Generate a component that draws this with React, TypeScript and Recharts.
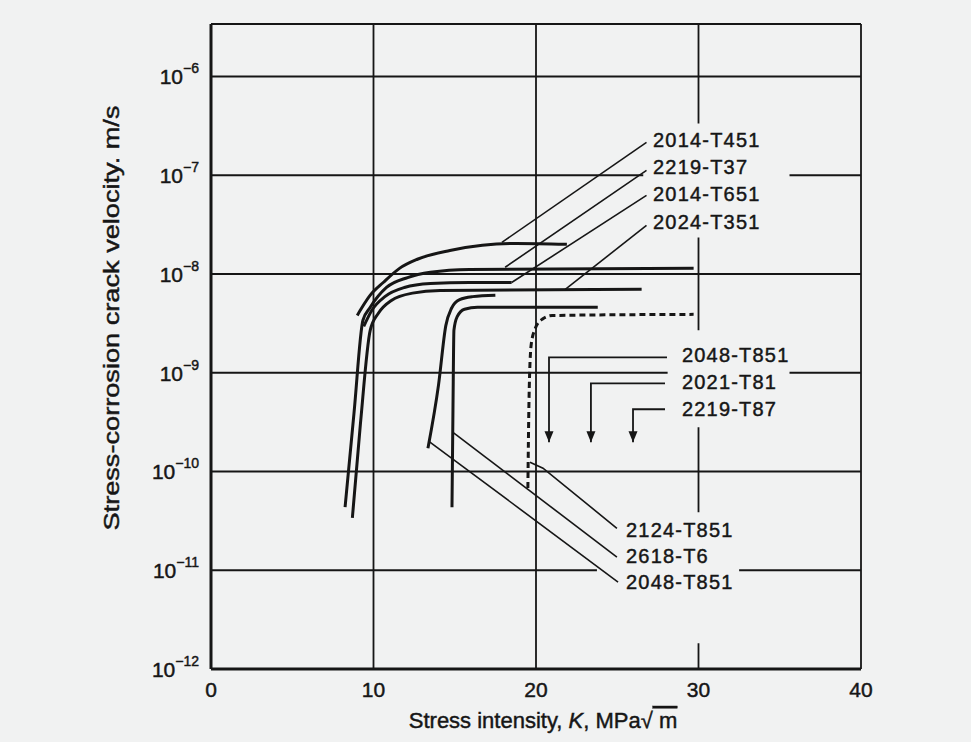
import React from "react";
import {
  LineChart,
  Line,
  XAxis,
  YAxis,
  CartesianGrid,
  ReferenceArea,
  ReferenceDot,
  Label,
} from "recharts";

const BG = "#f1f2f2";
const INK = "#161616";
const FONT = "'Liberation Sans', Arial, Helvetica, sans-serif";

// axes: stress intensity K (MPa√m) and crack velocity v (m/s, log)
const X_TICKS = [0, 10, 20, 30, 40];
const Y_TICKS = [1e-12, 1e-11, 1e-10, 1e-9, 1e-8, 1e-7, 1e-6];
const Y_MAX = 3.4e-6;

// curves
const c2014T451 = [
  { k: 9.0, v: 3.8e-9 },
  { k: 9.3, v: 4.6e-9 },
  { k: 9.8, v: 6.1e-9 },
  { k: 10.6, v: 8.2e-9 },
  { k: 11.6, v: 1.14e-8 },
  { k: 12.7, v: 1.41e-8 },
  { k: 14.7, v: 1.73e-8 },
  { k: 16.7, v: 1.95e-8 },
  { k: 18.8, v: 2.04e-8 },
  { k: 21.9, v: 2.0e-8 },
];
const c2219T37 = [
  { k: 8.25, v: 4.35e-11 },
  { k: 8.8, v: 3.9e-10 },
  { k: 9.35, v: 3.4e-9 },
  { k: 9.8, v: 4.6e-9 },
  { k: 10.8, v: 7.3e-9 },
  { k: 12.1, v: 9.2e-9 },
  { k: 13.5, v: 1.04e-8 },
  { k: 15.9, v: 1.11e-8 },
  { k: 29.7, v: 1.14e-8 },
];
const c2014T651 = [
  { k: 9.4, v: 2.95e-9 },
  { k: 9.9, v: 4.3e-9 },
  { k: 10.7, v: 5.9e-9 },
  { k: 11.9, v: 7.3e-9 },
  { k: 13.5, v: 8.0e-9 },
  { k: 15.9, v: 8.2e-9 },
  { k: 18.5, v: 8.2e-9 },
];
const c2024T351 = [
  { k: 8.7, v: 3.4e-11 },
  { k: 9.2, v: 3.1e-10 },
  { k: 9.8, v: 2.7e-9 },
  { k: 10.3, v: 4.0e-9 },
  { k: 11.1, v: 5.4e-9 },
  { k: 12.4, v: 6.4e-9 },
  { k: 14.1, v: 6.8e-9 },
  { k: 26.5, v: 7.0e-9 },
];
const c2048T851 = [
  { k: 13.35, v: 1.72e-10 },
  { k: 14.0, v: 7.5e-10 },
  { k: 14.45, v: 3.0e-9 },
  { k: 14.8, v: 4.5e-9 },
  { k: 15.3, v: 5.5e-9 },
  { k: 16.1, v: 5.9e-9 },
  { k: 17.5, v: 6.1e-9 },
];
const c2618T6 = [
  { k: 14.83, v: 4.35e-11 },
  { k: 14.89, v: 4.2e-10 },
  { k: 14.95, v: 2.7e-9 },
  { k: 15.15, v: 3.7e-9 },
  { k: 15.6, v: 4.4e-9 },
  { k: 16.4, v: 4.6e-9 },
  { k: 23.8, v: 4.6e-9 },
];
// dashed curve
const c2124T851 = [
  { k: 19.5, v: 6.8e-11 },
  { k: 19.57, v: 5.3e-10 },
  { k: 19.7, v: 1.9e-9 },
  { k: 19.95, v: 2.8e-9 },
  { k: 20.4, v: 3.5e-9 },
  { k: 21.0, v: 3.8e-9 },
  { k: 29.7, v: 3.9e-9 },
];

const solidCurves = [c2014T451, c2219T37, c2014T651, c2024T351, c2048T851, c2618T6];

// leader lines from the labels to the curves
const leaders = [
  [{ k: 26.8, v: 2.15e-7 }, { k: 17.9, v: 2.09e-8 }],
  [{ k: 26.8, v: 1.12e-7 }, { k: 18.1, v: 1.17e-8 }],
  [{ k: 26.8, v: 6.25e-8 }, { k: 18.5, v: 8.2e-9 }],
  [{ k: 26.8, v: 3.1e-8 }, { k: 21.8, v: 7.0e-9 }],
  [{ k: 19.63, v: 1.24e-10 }, { k: 20.43, v: 1.08e-10 }, { k: 24.98, v: 2.66e-11 }],
  [{ k: 14.89, v: 2.49e-10 }, { k: 24.98, v: 1.36e-11 }],
  [{ k: 13.45, v: 2.0e-10 }, { k: 25.05, v: 7.6e-12 }],
];

// "no cracking below this K" arrows
const arrows = [
  [{ k: 28.06, v: 1.43e-9 }, { k: 20.8, v: 1.43e-9 }, { k: 20.8, v: 1.98e-10 }],
  [{ k: 27.94, v: 7.8e-10 }, { k: 23.38, v: 7.8e-10 }, { k: 23.38, v: 1.98e-10 }],
  [{ k: 27.94, v: 4.27e-10 }, { k: 25.97, v: 4.27e-10 }, { k: 25.97, v: 1.98e-10 }],
];

const alloyLabels = [
  { text: "2014-T451", k: 27.2, v: 2.25e-7 },
  { text: "2219-T37", k: 27.2, v: 1.2e-7 },
  { text: "2014-T651", k: 27.2, v: 6.4e-8 },
  { text: "2024-T351", k: 27.2, v: 3.4e-8 },
  { text: "2048-T851", k: 28.98, v: 1.5e-9 },
  { text: "2021-T81", k: 28.98, v: 8.0e-10 },
  { text: "2219-T87", k: 28.98, v: 4.27e-10 },
  { text: "2124-T851", k: 25.54, v: 2.54e-11 },
  { text: "2618-T6", k: 25.54, v: 1.39e-11 },
  { text: "2048-T851", k: 25.54, v: 7.57e-12 },
];

// blank patches behind the label blocks (grid is broken there)
const labelPatches = [
  { k1: 26.6, k2: 35.6, v1: 2.34e-8, v2: 3.34e-7 },
  { k1: 28.1, k2: 35.6, v1: 2.8e-10, v2: 2.69e-9 },
  { k1: 23.75, k2: 32.5, v1: 1.82e-12, v2: 3.86e-11 },
];

const textInk = { fill: INK, stroke: INK, strokeWidth: 0.45, fontFamily: FONT };

const YTick = (props: any) => {
  const { x, y, payload } = props;
  const exp = Math.round(Math.log10(payload.value));
  return (
    <text x={x} y={y + 8} textAnchor="end" {...textInk}>
      <tspan fontSize={21}>10</tspan>
      <tspan fontSize={14} dy={-11}>
        {"\u2212" + Math.abs(exp)}
      </tspan>
    </text>
  );
};

const XTick = (props: any) => {
  const { x, y, payload } = props;
  return (
    <text x={x} y={y + 28} textAnchor="middle" fontSize={21} {...textInk}>
      {payload.value}
    </text>
  );
};

const XTitle = () => (
  <text x={543} y={728} textAnchor="middle" fontSize={22} {...textInk}>
    Stress intensity, <tspan fontStyle="italic">K</tspan>, MPa√
    <tspan textDecoration="overline"> m</tspan>
  </text>
);

const YTitle = () => (
  <text
    x={0}
    y={0}
    transform="translate(119,318) rotate(-90)"
    textAnchor="middle"
    fontSize={22}
    textLength={425}
    lengthAdjust="spacingAndGlyphs"
    {...textInk}
  >
    Stress-corrosion crack velocity. m/s
  </text>
);

const AlloyText = (text: string) => (props: any) => (
  <text x={props.cx} y={props.cy + 7} fontSize={20} letterSpacing={1.2} {...textInk}>
    {text}
  </text>
);

const ArrowHead = (props: any) => (
  <path
    d={`M${props.cx - 4.5},${props.cy - 11}L${props.cx + 4.5},${props.cy - 11}L${props.cx},${props.cy}Z`}
    fill={INK}
  />
);

export default function App() {
  return (
    <div style={{ position: "absolute", left: 0, top: 0, width: 971, height: 742, background: BG }}>
      <LineChart width={971} height={742} margin={{ top: 24, right: 110, bottom: 33, left: 111 }}>
        <CartesianGrid stroke={INK} strokeWidth={1.8} />
        <XAxis
          type="number"
          dataKey="k"
          domain={[0, 40]}
          ticks={X_TICKS}
          height={40}
          tickLine={false}
          tickSize={0}
          tickMargin={0}
          axisLine={{ stroke: INK, strokeWidth: 3 }}
          tick={<XTick />}
          allowDataOverflow
        >
          <Label content={<XTitle />} />
        </XAxis>
        <YAxis
          type="number"
          scale="log"
          domain={[1e-12, Y_MAX]}
          ticks={Y_TICKS}
          width={100}
          tickLine={false}
          tickSize={0}
          tickMargin={12}
          axisLine={{ stroke: INK, strokeWidth: 3 }}
          tick={<YTick />}
          allowDataOverflow
        >
          <Label content={<YTitle />} />
        </YAxis>

        {labelPatches.map((p, i) => (
          <ReferenceArea
            key={"patch" + i}
            x1={p.k1}
            x2={p.k2}
            y1={p.v1}
            y2={p.v2}
            fill={BG}
            fillOpacity={1}
            stroke="none"
          />
        ))}

        {solidCurves.map((d, i) => (
          <Line
            key={"c" + i}
            data={d}
            dataKey="v"
            type="monotone"
            stroke={INK}
            strokeWidth={3}
            dot={false}
            isAnimationActive={false}
          />
        ))}
        <Line
          data={c2124T851}
          dataKey="v"
          type="monotone"
          stroke={INK}
          strokeWidth={3}
          strokeDasharray="6 4"
          dot={false}
          isAnimationActive={false}
        />

        {leaders.map((d, i) => (
          <Line
            key={"l" + i}
            data={d}
            dataKey="v"
            type="linear"
            stroke={INK}
            strokeWidth={1.6}
            dot={false}
            isAnimationActive={false}
          />
        ))}
        {arrows.map((d, i) => (
          <Line
            key={"a" + i}
            data={d}
            dataKey="v"
            type="linear"
            stroke={INK}
            strokeWidth={1.8}
            dot={false}
            isAnimationActive={false}
          />
        ))}
        {arrows.map((d, i) => (
          <ReferenceDot
            key={"ah" + i}
            x={d[d.length - 1].k}
            y={d[d.length - 1].v}
            r={5}
            shape={ArrowHead}
          />
        ))}
        {alloyLabels.map((l, i) => (
          <ReferenceDot key={"t" + i} x={l.k} y={l.v} r={1} shape={AlloyText(l.text)} />
        ))}
      </LineChart>
    </div>
  );
}
